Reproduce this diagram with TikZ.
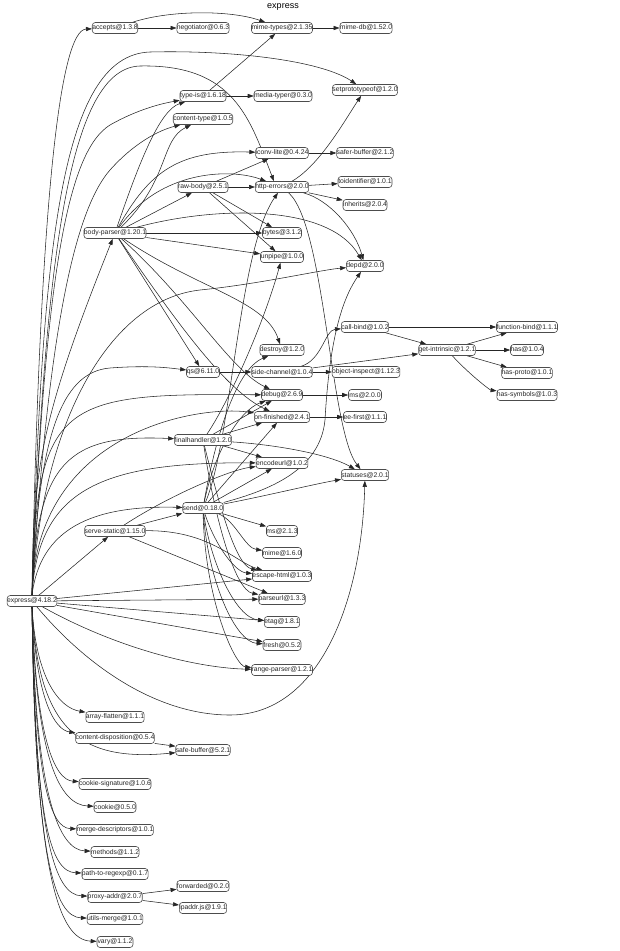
\documentclass[tikz,border=0pt]{standalone}
\usepackage{fontspec}
\setmainfont{Liberation Sans}
\usetikzlibrary{arrows.meta,backgrounds}
\tikzset{
  pkg/.style={draw=black!70, fill=white, rounded corners=3pt, minimum height=11pt, inner sep=0pt,
    font=\fontsize{6.8}{7}\selectfont, text=black!85, line width=0.6pt},
  dep/.style={-{Triangle[length=6pt,width=4.2pt]}, line width=0.55pt, draw=black!85},
  ttl/.style={font=\fontsize{9}{10}\selectfont, inner sep=0pt}
}
\newcommand\pk[4]{\node[pkg,minimum width=#3pt] (#1) at (#2) {#4};}
\begin{document}
\begin{tikzpicture}[x=1pt,y=-1pt]
\useasboundingbox (0,0) rectangle (619,951);
\node[ttl] (title) at (283,7) {express};
\pk{accepts}{115,28}{44}{accepts@1.3.8}
\pk{negotiator}{203,28}{51}{negotiator@0.6.3}
\pk{mimetypes}{282,28}{60}{mime-types@2.1.35}
\pk{mimedb}{366,28}{52}{mime-db@1.52.0}
\pk{setproto}{365,90}{63}{setprototypeof@1.2.0}
\pk{typeis}{203,96}{46}{type-is@1.6.18}
\pk{mediatyper}{283,96}{57}{media-typer@0.3.0}
\pk{contenttype}{203,119}{58}{content-type@1.0.5}
\pk{iconv}{282,153}{52}{iconv-lite@0.4.24}
\pk{safer}{365,153}{55}{safer-buffer@2.1.2}
\pk{toid}{365,182}{54}{toidentifier@1.0.1}
\pk{rawbody}{203,187}{50}{raw-body@2.5.1}
\pk{httperr}{282,187}{53}{http-errors@2.0.0}
\pk{inherits}{365,205}{44}{inherits@2.0.4}
\pk{bodyparser}{115,233}{59}{body-parser@1.20.1}
\pk{bytes}{282,233}{39}{bytes@3.1.2}
\pk{unpipe}{282,257}{43}{unpipe@1.0.0}
\pk{depd}{365,266}{36}{depd@2.0.0}
\pk{callbind}{365,327}{47}{call-bind@1.0.2}
\pk{fnbind}{527,327}{60}{function-bind@1.1.1}
\pk{getintr}{447,350}{56}{get-intrinsic@1.2.1}
\pk{has}{527,350}{32}{has@1.0.4}
\pk{destroy}{282,350}{44}{destroy@1.2.0}
\pk{qs}{203,372}{33}{qs@6.11.0}
\pk{sidech}{282,372}{59}{side-channel@1.0.4}
\pk{objinsp}{366,372}{66}{object-inspect@1.12.3}
\pk{hasproto}{527,373}{49}{has-proto@1.0.1}
\pk{debug}{282,395}{41}{debug@2.6.9}
\pk{ms200}{365,395}{33}{ms@2.0.0}
\pk{hassym}{527,395}{57}{has-symbols@1.0.3}
\pk{onfin}{282,417}{55}{on-finished@2.4.1}
\pk{eefirst}{365,417}{43}{ee-first@1.1.1}
\pk{finalh}{203,440}{56}{finalhandler@1.2.0}
\pk{encodeurl}{282,463}{51}{encodeurl@1.0.2}
\pk{statuses}{365,475}{45}{statuses@2.0.1}
\pk{send}{203,508}{40}{send@0.18.0}
\pk{servest}{115,531}{58}{serve-static@1.15.0}
\pk{ms213}{282,531}{31}{ms@2.1.3}
\pk{mime}{282,553}{39}{mime@1.6.0}
\pk{escape}{282,576}{56}{escape-html@1.0.3}
\pk{parseurl}{282,599}{45}{parseurl@1.3.3}
\pk{etag}{282,622}{35}{etag@1.8.1}
\pk{fresh}{282,645}{38}{fresh@0.5.2}
\pk{rangep}{282,670}{57}{range-parser@1.2.1}
\pk{express}{32,601}{48}{express@4.18.2}
\pk{arrayfl}{115,717}{57}{array-flatten@1.1.1}
\pk{contdisp}{115,738}{78}{content-disposition@0.5.4}
\pk{safebuf}{203,750}{53}{safe-buffer@5.2.1}
\pk{cookiesig}{115,784}{70}{cookie-signature@1.0.6}
\pk{cookie}{115,807}{42}{cookie@0.5.0}
\pk{mergedesc}{115,830}{74}{merge-descriptors@1.0.1}
\pk{methods}{115,852}{46}{methods@1.1.2}
\pk{pathre}{115,874}{64}{path-to-regexp@0.1.7}
\pk{proxy}{115,897}{54}{proxy-addr@2.0.7}
\pk{forwarded}{203,886}{52}{forwarded@0.2.0}
\pk{ipaddr}{203,908}{47}{ipaddr.js@1.9.1}
\pk{utilsm}{115,919}{54}{utils-merge@1.0.1}
\pk{vary}{115,942}{36}{vary@1.1.2}
\begin{pgfonlayer}{background}
% express upward
\draw[dep] (express.north) .. controls (40,200) and (60,30) .. (accepts);
\draw[dep] (express.north) .. controls (42,250) and (60,55) .. (150,52) .. controls (230,50) and (320,60) .. (setproto);
\draw[dep] (express.north) .. controls (45,250) and (70,68) .. (140,66) .. controls (235,64) and (250,120) .. ([xshift=-8pt]httperr.north);
\draw[dep] (express.north) .. controls (45,260) and (70,150) .. (110,125) .. controls (140,108) and (165,103) .. (typeis);
\draw[dep] (express.north) .. controls (48,330) and (75,210) .. (110,170) .. controls (135,142) and (160,130) .. (contenttype);
\draw[dep] (express.north) .. controls (33,470) and (40,420) .. (bodyparser);
\draw[dep] (express.north) .. controls (42,420) and (110,300) .. (200,290) .. controls (260,284) and (320,270) .. (depd);
\draw[dep] (express.north) .. controls (38,440) and (60,372) .. (110,368) .. controls (150,365) and (170,368) .. (qs);
\draw[dep] (express.north) .. controls (36,400) and (60,393) .. (debug);
\draw[dep] (express.north) .. controls (36,430) and (200,405) .. (onfin);
\draw[dep] (express.north) .. controls (36,460) and (70,434) .. (finalh);
\draw[dep] (express.north) .. controls (38,490) and (100,462) .. (encodeurl);
\draw[dep] (express.north) .. controls (40,530) and (90,505) .. (send);
\draw[dep] (express) -- (servest);
\draw[dep] (express) -- (escape);
\draw[dep] (express) -- (parseurl);
\draw[dep] (express) -- (etag);
\draw[dep] (express) -- (fresh);
\draw[dep] (express) .. controls (120,650) and (200,668) .. (rangep);
\draw[dep] (express) .. controls (90,670) and (160,715) .. (230,715) .. controls (320,715) and (362,600) .. (statuses);
% express downward
\draw[dep] (express.south) .. controls (36,680) and (60,708) .. (arrayfl);
\draw[dep] (express.south) .. controls (36,700) and (55,730) .. (contdisp);
\draw[dep] (express.south) .. controls (38,730) and (80,762) .. (safebuf);
\draw[dep] (express.south) .. controls (36,740) and (55,780) .. (cookiesig);
\draw[dep] (express.south) .. controls (36,760) and (60,805) .. (cookie);
\draw[dep] (express.south) .. controls (35,780) and (50,828) .. (mergedesc);
\draw[dep] (express.south) .. controls (35,800) and (60,850) .. (methods);
\draw[dep] (express.south) .. controls (35,820) and (50,872) .. (pathre);
\draw[dep] (express.south) .. controls (35,840) and (55,895) .. (proxy);
\draw[dep] (express.south) .. controls (35,860) and (55,917) .. (utilsm);
\draw[dep] (express.south) .. controls (35,880) and (60,940) .. (vary);
% accepts / type-is
\draw[dep] (accepts) -- (negotiator);
\draw[dep] (accepts) .. controls (170,10) and (230,10) .. (mimetypes);
\draw[dep] (mimetypes) -- (mimedb);
\draw[dep] (typeis) -- (mediatyper);
\draw[dep] (typeis) -- (mimetypes);
% body-parser
\draw[dep] (bodyparser) -- (rawbody);
\draw[dep] (bodyparser) -- (bytes);
\draw[dep] (bodyparser) -- (unpipe);
\draw[dep] (bodyparser) .. controls (220,205) and (330,205) .. (depd);
\draw[dep] (bodyparser) .. controls (150,170) and (180,150) .. (iconv);
\draw[dep] (bodyparser) .. controls (160,170) and (230,168) .. (httperr);
\draw[dep] (bodyparser) .. controls (140,160) and (160,110) .. (typeis);
\draw[dep] (bodyparser) .. controls (170,180) and (160,140) .. (contenttype);
\draw[dep] (bodyparser) -- (qs);
\draw[dep] (bodyparser) .. controls (200,290) and (265,300) .. (destroy);
\draw[dep] (bodyparser) .. controls (190,300) and (230,370) .. (debug);
\draw[dep] (bodyparser) .. controls (175,320) and (225,390) .. (onfin);
% raw-body, iconv, http-errors
\draw[dep] (rawbody) -- (httperr);
\draw[dep] (rawbody) -- (iconv);
\draw[dep] (rawbody) -- (bytes);
\draw[dep] (rawbody) -- (unpipe);
\draw[dep] (iconv) -- (safer);
\draw[dep] (httperr) -- (toid);
\draw[dep] (httperr) -- (inherits);
\draw[dep] (httperr) .. controls (320,165) and (345,120) .. (setproto);
\draw[dep] (httperr) .. controls (330,200) and (355,230) .. (depd);
\draw[dep] (httperr) .. controls (325,225) and (330,430) .. (statuses);
% send
\draw[dep] (send) .. controls (232,440) and (238,250) .. (httperr);
\draw[dep] (send) .. controls (270,490) and (320,470) .. (325,420) .. controls (330,330) and (345,295) .. (depd);
\draw[dep] (send) .. controls (215,440) and (235,370) .. (destroy);
\draw[dep] (send) .. controls (215,450) and (240,410) .. (debug);
\draw[dep] (send) -- (onfin);
\draw[dep] (send) -- (encodeurl);
\draw[dep] (send) .. controls (270,495) and (310,485) .. (statuses);
\draw[dep] (send) -- (ms213);
\draw[dep] (send) .. controls (235,520) and (245,548) .. (mime);
\draw[dep] (send) .. controls (215,545) and (235,572) .. (escape);
\draw[dep] (send) .. controls (210,560) and (235,618) .. (etag);
\draw[dep] (send) .. controls (208,580) and (235,642) .. (fresh);
\draw[dep] (send) .. controls (205,600) and (235,666) .. (rangep);
% finalhandler
\draw[dep] (finalh) .. controls (280,445) and (330,455) .. (statuses);
\draw[dep] (finalh) -- (encodeurl);
\draw[dep] (finalh) -- (debug);
\draw[dep] (finalh) -- (onfin);
\draw[dep] (finalh) .. controls (230,400) and (265,320) .. (unpipe);
\draw[dep] (finalh) .. controls (218,500) and (235,565) .. (escape);
\draw[dep] (finalh) .. controls (215,520) and (235,590) .. (parseurl);
% serve-static
\draw[dep] (servest) -- (send);
\draw[dep] (servest) .. controls (170,495) and (230,470) .. (encodeurl);
\draw[dep] (servest) .. controls (210,530) and (235,562) .. (escape);
\draw[dep] (servest) -- (parseurl);
% misc
\draw[dep] (contdisp) -- (safebuf);
\draw[dep] (proxy) -- (forwarded);
\draw[dep] (proxy) -- (ipaddr);
\draw[dep] (qs) -- (sidech);
\draw[dep] (sidech) -- (objinsp);
\draw[dep] (sidech) .. controls (322,360) and (325,330) .. (callbind);
\draw[dep] (sidech) -- (getintr);
\draw[dep] (callbind) -- (fnbind);
\draw[dep] (callbind) -- (getintr);
\draw[dep] (getintr) -- (fnbind);
\draw[dep] (getintr) -- (has);
\draw[dep] (getintr) -- (hasproto);
\draw[dep] (getintr) .. controls (470,375) and (490,390) .. (hassym);
\draw[dep] (debug) -- (ms200);
\draw[dep] (onfin) -- (eefirst);
\end{pgfonlayer}
\end{tikzpicture}
\end{document}
